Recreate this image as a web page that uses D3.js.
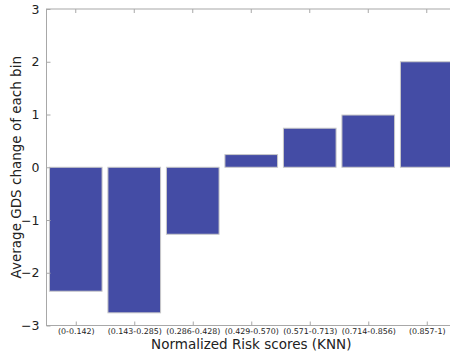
<!DOCTYPE html>
<html>
<head>
<meta charset="utf-8">
<script src="https://cdn.jsdelivr.net/npm/d3@7"></script>
<style>
  html, body { margin: 0; padding: 0; background: #fff; }
  svg { display: block; }
  svg text { font-family: "DejaVu Sans", sans-serif; }
</style>
</head>
<body>
<svg id="chart" width="450" height="354"></svg>
<script>
// Risk-score bins and the mean GDS change within each bin
const bins = ["(0-0.142)", "(0.143-0.285)", "(0.286-0.428)", "(0.429-0.570)",
              "(0.571-0.713)", "(0.714-0.856)", "(0.857-1)"];
const gdsChange = [-2.35, -2.76, -1.27, 0.24, 0.74, 0.99, 2.0];
const yTicks = [-3, -2, -1, 0, 1, 2, 3];

const barWidth = 0.9;  // in bin units
const axisColor = "#a8a8a8";
const font = "DejaVu Sans, sans-serif";

const svg = d3.select("#chart");
const plot = { left: 46.5, top: 9, right: 456, bottom: 325.5 };

const x = d3.scaleLinear().domain([-0.05, bins.length - 0.05]).range([plot.left, plot.right]);
const y = d3.scaleLinear().domain([-3, 3]).range([plot.bottom, plot.top]);

// bars
svg.append("g").selectAll("rect")
  .data(gdsChange)
  .join("rect")
  .attr("x", (d, i) => x(i))
  .attr("width", x(barWidth) - x(0))
  .attr("y", d => y(Math.max(0, d)))
  .attr("height", d => Math.abs(y(d) - y(0)))
  .attr("fill", "#444ca5")
  .attr("stroke", "#c9c9c9")
  .attr("stroke-width", 1);

// frame
svg.append("rect")
  .attr("x", plot.left).attr("y", plot.top)
  .attr("width", plot.right - plot.left).attr("height", plot.bottom - plot.top)
  .attr("fill", "none").attr("stroke", axisColor).attr("stroke-width", 1);

// y axis (ticks pointing inward)
const yAxis = svg.append("g")
  .attr("transform", `translate(${plot.left},0)`)
  .call(d3.axisLeft(y).tickValues(yTicks).tickFormat(d3.format("d")).tickSize(-4).tickPadding(7))
  .attr("font-family", font);
yAxis.select(".domain").remove();
yAxis.selectAll(".tick line").attr("stroke", axisColor);
yAxis.selectAll(".tick text").attr("font-size", 12.5).attr("fill", "#222");

// x axis, bottom (labels at bar centers)
const centers = bins.map((b, i) => i + barWidth / 2);
const xAxis = svg.append("g")
  .attr("transform", `translate(0,${plot.bottom})`)
  .call(d3.axisBottom(x).tickValues(centers).tickFormat((d, i) => bins[i]).tickSize(-4).tickPadding(3))
  .attr("font-family", font);
xAxis.select(".domain").remove();
xAxis.selectAll(".tick line").attr("stroke", axisColor);
xAxis.selectAll(".tick text").attr("font-size", 7.9).attr("fill", "#222");

// top ticks
svg.append("g").selectAll("line")
  .data(centers)
  .join("line")
  .attr("x1", d => x(d)).attr("x2", d => x(d))
  .attr("y1", plot.top).attr("y2", plot.top + 4)
  .attr("stroke", axisColor);

// axis titles
svg.append("text")
  .attr("x", (plot.left + plot.right) / 2)
  .attr("y", 348.5)
  .attr("text-anchor", "middle")
  .attr("font-size", 13.5)
  .attr("fill", "#222")
  .text("Normalized Risk scores (KNN)");

svg.append("text")
  .attr("transform", `translate(21,${(plot.top + plot.bottom) / 2}) rotate(-90)`)
  .attr("text-anchor", "middle")
  .attr("font-size", 13.5)
  .attr("fill", "#222")
  .text("Average GDS change of each bin");
</script>
</body>
</html>
